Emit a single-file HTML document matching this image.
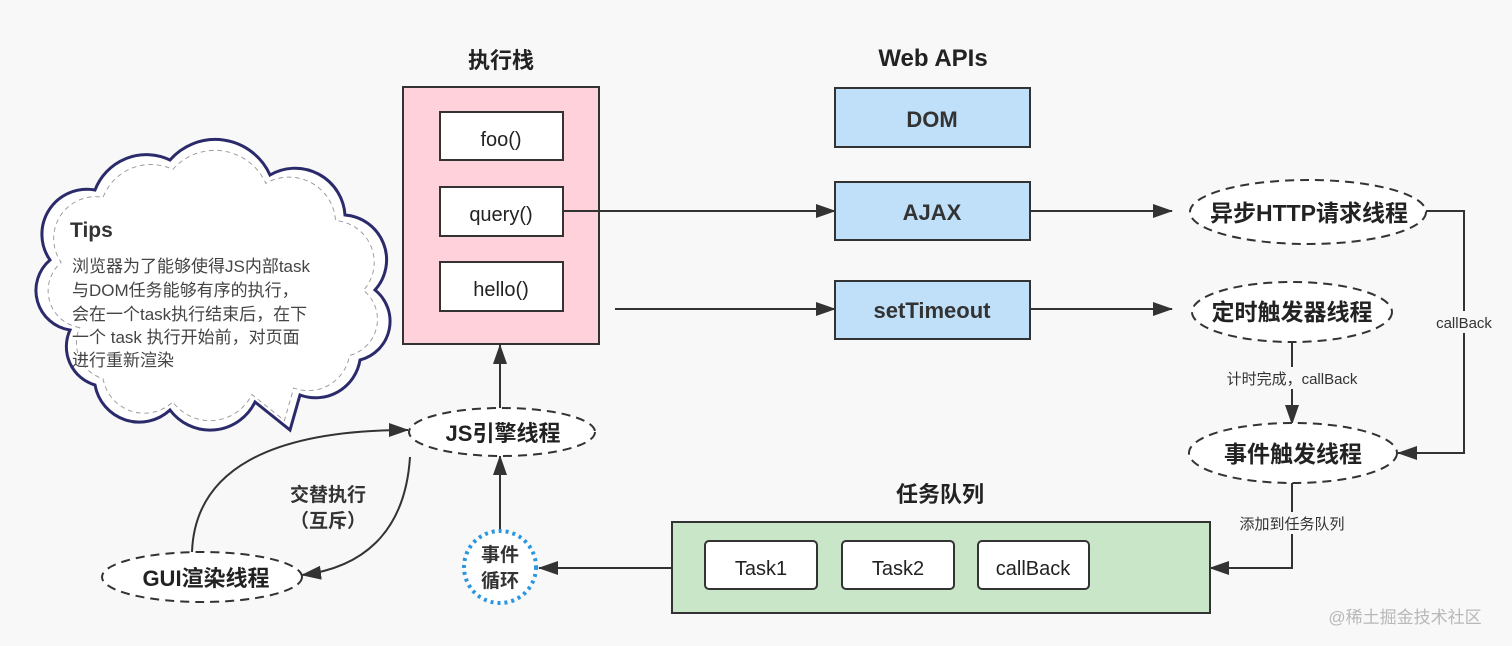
<!DOCTYPE html>
<html><head><meta charset="utf-8"><style>
html,body{margin:0;padding:0;background:#f8f8f8}
svg{display:block}
text{font-family:"Liberation Sans","Noto Sans CJK SC",sans-serif;fill:#222}
.b{font-weight:bold}
</style></head><body>
<svg width="1512" height="646" viewBox="0 0 1512 646" xmlns="http://www.w3.org/2000/svg">
<defs>
<marker id="a" markerWidth="20" markerHeight="14" refX="19" refY="7" orient="auto" markerUnits="userSpaceOnUse">
<path d="M0,0 L20,7 L0,14 Z" fill="#333"/></marker>
</defs>
<rect width="1512" height="646" fill="#f8f8f8"/>

<!-- Cloud -->
<g>
<path d="M70,330 A40,40 0 0 1 50,260 A45,45 0 0 1 95,190 A55,55 0 0 1 170,160 A60,60 0 0 1 270,175 A50,50 0 0 1 345,215 A45,45 0 0 1 375,290 A40,40 0 0 1 360,360 A45,45 0 0 1 300,395 L290,430 L255,402 A50,50 0 0 1 170,410 A45,45 0 0 1 95,385 A40,40 0 0 1 70,330 Z" fill="#fff" stroke="#2b2a6b" stroke-width="3"/>
<path transform="translate(210,295) scale(0.93) translate(-210,-295)" d="M70,330 A40,40 0 0 1 50,260 A45,45 0 0 1 95,190 A55,55 0 0 1 170,160 A60,60 0 0 1 270,175 A50,50 0 0 1 345,215 A45,45 0 0 1 375,290 A40,40 0 0 1 360,360 A45,45 0 0 1 300,395 L290,430 L255,402 A50,50 0 0 1 170,410 A45,45 0 0 1 95,385 A40,40 0 0 1 70,330 Z" fill="none" stroke="#999" stroke-width="1" stroke-dasharray="5,4"/>
<text x="70" y="237" class="b" font-size="21" style="fill:#333">Tips</text>
<g font-size="17">
<text x="72" y="272" style="fill:#444">浏览器为了能够使得JS内部task</text>
<text x="72" y="296" style="fill:#444">与DOM任务能够有序的执行，</text>
<text x="72" y="320" style="fill:#444">会在一个task执行结束后，在下</text>
<text x="72" y="343" style="fill:#444">一个 task 执行开始前，对页面</text>
<text x="72" y="366" style="fill:#444">进行重新渲染</text>
</g>
</g>

<!-- Execution stack -->
<text x="501" y="68" class="b" font-size="22" text-anchor="middle">执行栈</text>
<rect x="403" y="87" width="196" height="257" fill="#ffd1da" stroke="#333" stroke-width="2"/>
<rect x="440" y="112" width="123" height="48" fill="#fff" stroke="#333" stroke-width="2"/>
<rect x="440" y="187" width="123" height="49" fill="#fff" stroke="#333" stroke-width="2"/>
<rect x="440" y="262" width="123" height="49" fill="#fff" stroke="#333" stroke-width="2"/>
<text x="501" y="146" font-size="20" text-anchor="middle">foo()</text>
<text x="501" y="221" font-size="20" text-anchor="middle">query()</text>
<text x="501" y="296" font-size="20" text-anchor="middle">hello()</text>

<!-- Web APIs -->
<text x="933" y="66" class="b" font-size="24" text-anchor="middle">Web APIs</text>
<rect x="835" y="88" width="195" height="59" fill="#bfe0f8" stroke="#333" stroke-width="2"/>
<rect x="835" y="182" width="195" height="58" fill="#bfe0f8" stroke="#333" stroke-width="2"/>
<rect x="835" y="281" width="195" height="58" fill="#bfe0f8" stroke="#333" stroke-width="2"/>
<text x="932" y="127" class="b" font-size="22" text-anchor="middle" style="fill:#333">DOM</text>
<text x="932" y="220" class="b" font-size="22" text-anchor="middle" style="fill:#333">AJAX</text>
<text x="932" y="318" class="b" font-size="22" text-anchor="middle" style="fill:#333">setTimeout</text>

<g stroke="#333" stroke-width="2" fill="none">
<line x1="563" y1="211" x2="835" y2="211" marker-end="url(#a)"/>
<line x1="615" y1="309" x2="835" y2="309" marker-end="url(#a)"/>
<line x1="1030" y1="211" x2="1172" y2="211" marker-end="url(#a)"/>
<line x1="1030" y1="309" x2="1172" y2="309" marker-end="url(#a)"/>
<polyline points="1426,211 1464,211 1464,453 1398,453" marker-end="url(#a)"/>
<line x1="1292" y1="342" x2="1292" y2="424" marker-end="url(#a)"/>
<polyline points="1292,483 1292,568 1210,568" marker-end="url(#a)"/>
<line x1="672" y1="568" x2="539" y2="568" marker-end="url(#a)"/>
<line x1="500" y1="530" x2="500" y2="456" marker-end="url(#a)"/>
<line x1="500" y1="408" x2="500" y2="345" marker-end="url(#a)"/>
<path d="M192,552 C195,470 270,430 408,430" marker-end="url(#a)"/>
<path d="M410,457 C405,535 360,568 302,575" marker-end="url(#a)"/>
</g>

<!-- thread ellipses -->
<g fill="#fff" stroke="#333" stroke-width="2" stroke-dasharray="9,6">
<ellipse cx="1308" cy="212" rx="118" ry="32"/>
<ellipse cx="1292" cy="312" rx="100" ry="30"/>
<ellipse cx="1293" cy="453" rx="104" ry="30"/>
<ellipse cx="502" cy="432" rx="93" ry="24"/>
<ellipse cx="202" cy="577" rx="100" ry="25"/>
</g>
<text x="1309" y="221" class="b" font-size="23" text-anchor="middle">异步HTTP请求线程</text>
<text x="1292" y="320" class="b" font-size="23" text-anchor="middle">定时触发器线程</text>
<text x="1293" y="462" class="b" font-size="23" text-anchor="middle">事件触发线程</text>
<text x="503" y="441" class="b" font-size="22" text-anchor="middle">JS引擎线程</text>
<text x="206" y="586" class="b" font-size="22" text-anchor="middle">GUI渲染线程</text>

<!-- connector labels -->
<rect x="1430" y="311" width="68" height="22" fill="#f8f8f8"/>
<text x="1464" y="328" font-size="15" text-anchor="middle" style="fill:#333">callBack</text>
<rect x="1220" y="367" width="144" height="22" fill="#f8f8f8"/>
<text x="1292" y="384" font-size="15" text-anchor="middle" style="fill:#333">计时完成，callBack</text>
<rect x="1234" y="512" width="116" height="22" fill="#f8f8f8"/>
<text x="1292" y="529" font-size="15" text-anchor="middle" style="fill:#333">添加到任务队列</text>
<text x="328" y="501" class="b" font-size="19" text-anchor="middle" style="fill:#333">交替执行</text>
<text x="328" y="527" class="b" font-size="19" text-anchor="middle" style="fill:#333">（互斥）</text>

<!-- task queue -->
<text x="940" y="502" class="b" font-size="22" text-anchor="middle">任务队列</text>
<rect x="672" y="522" width="538" height="91" fill="#c9e6c9" stroke="#333" stroke-width="2"/>
<rect x="705" y="541" width="112" height="48" rx="4" fill="#fff" stroke="#333" stroke-width="2"/>
<rect x="842" y="541" width="112" height="48" rx="4" fill="#fff" stroke="#333" stroke-width="2"/>
<rect x="978" y="541" width="111" height="48" rx="4" fill="#fff" stroke="#333" stroke-width="2"/>
<text x="761" y="575" font-size="20" text-anchor="middle">Task1</text>
<text x="898" y="575" font-size="20" text-anchor="middle">Task2</text>
<text x="1033" y="575" font-size="20" text-anchor="middle">callBack</text>

<!-- event loop -->
<circle cx="500" cy="567" r="36" fill="#fff" stroke="#2a96e0" stroke-width="4" stroke-dasharray="3,4"/>
<text x="500" y="561" class="b" font-size="19" text-anchor="middle" style="fill:#333">事件</text>
<text x="500" y="587" class="b" font-size="19" text-anchor="middle" style="fill:#333">循环</text>

<text x="1405" y="623" font-size="17" text-anchor="middle" style="fill:#b8b8b8">@稀土掘金技术社区</text>
</svg>
</body></html>
